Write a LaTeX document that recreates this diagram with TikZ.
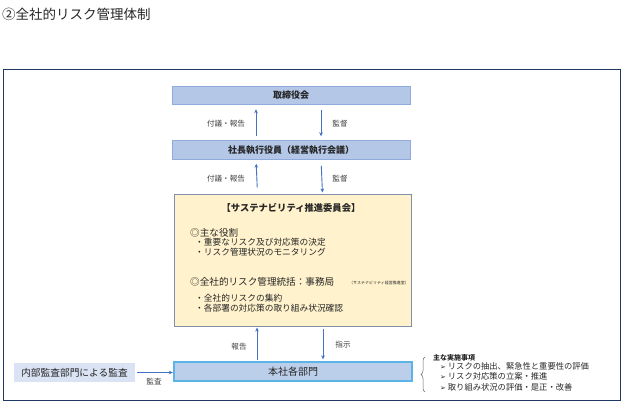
\documentclass[tikz,border=0pt]{standalone}
\usepackage{fontspec}
\setmainfont{Noto Sans CJK JP}
\newfontfamily\dejavu{DejaVu Sans}
\usetikzlibrary{arrows.meta,decorations.pathreplacing}
\definecolor{navy}{HTML}{1F3864}
\definecolor{boxblue}{HTML}{B4C7E7}
\definecolor{boxedge}{HTML}{8FAADC}
\definecolor{yel}{HTML}{FFF2CC}
\definecolor{yeledge}{HTML}{7F8FA9}
\definecolor{hqfill}{HTML}{BCCFEA}
\definecolor{hqedge}{HTML}{5BB4E5}
\definecolor{audfill}{HTML}{DAE3F3}
\definecolor{arrcol}{HTML}{4472C4}
\definecolor{txt}{HTML}{262626}
\definecolor{lbl}{HTML}{404040}
\tikzset{
  x=1pt,y=-1pt,
  topbox/.style={draw=boxedge,fill=boxblue,line width=0.9pt,minimum width=238pt,minimum height=18.5pt,inner sep=0pt,font=\fontsize{9}{10}\selectfont\bfseries,text=txt},
  arr/.style={draw=arrcol,line width=0.9pt,-{Stealth[length=4pt,width=3.6pt]}},
  lab/.style={font=\fontsize{7.6}{8}\selectfont,text=lbl,inner sep=0pt},
  body/.style={font=\fontsize{8.7}{9}\selectfont,text=txt,inner sep=0pt,anchor=west},
  head/.style={font=\fontsize{9.6}{11}\selectfont,text=txt,inner sep=0pt,anchor=west},
  item/.style={font=\fontsize{8.3}{9}\selectfont,text=txt,inner sep=0pt,anchor=west},
}
\begin{document}
\begin{tikzpicture}
\useasboundingbox (0,0) rectangle (624,405);
\node[anchor=west,inner sep=0pt,font=\fontsize{13.5}{14}\selectfont,text=txt] (title) at (2,14) {②全社的リスク管理体制};
\node[draw=navy,line width=1.8pt,minimum width=617pt,minimum height=331pt,inner sep=0pt] (frame) at (312,235) {};
\node[topbox] (board) at (291,95.5) {取締役会};
\node[topbox] (exec) at (291,150) {社長執行役員（経営執行会議）};
\node[draw=yeledge,fill=yel,line width=1pt,minimum width=237pt,minimum height=132pt,inner sep=0pt] (sust) at (292.5,260) {};
\node[draw=hqedge,fill=hqfill,line width=1.3pt,minimum width=238pt,minimum height=19pt,inner sep=0pt,font=\fontsize{10}{11}\selectfont,text=txt] (hq) at (293,371.5) {本社各部門};
\node[fill=audfill,minimum width=121pt,minimum height=19pt,inner sep=0pt,font=\fontsize{9.7}{11}\selectfont,text=txt] (audit) at (74.5,372.5) {内部監査部門による監査};
% arrows
\draw[arr,shorten <=4pt,shorten >=4pt] ([xshift=-35pt]exec.north) -- ([xshift=-35pt]board.south);
\draw[arr,shorten <=5pt,shorten >=4pt] ([xshift=30pt]board.south) -- ([xshift=30pt]exec.north);
\draw[arr,shorten <=6pt,shorten >=4pt] ([xshift=-35pt]sust.north) -- ([xshift=-35pt]exec.south);
\draw[arr,shorten <=6pt,shorten >=1pt] ([xshift=30pt]exec.south) -- ([xshift=30pt]sust.north);
\draw[arr,shorten <=1pt,shorten >=1pt] ([xshift=-36pt]hq.north) -- ([xshift=-35.5pt]sust.south);
\draw[arr,shorten <=2pt,shorten >=2pt] ([xshift=30.5pt]sust.south) -- ([xshift=30pt]hq.north);
\draw[arr,shorten <=2pt,shorten >=0.5pt] (audit.east) -- (audit.east -| hq.west);
% labels
\node[lab] (l1) at (226,124) {付議・報告};
\node[lab] (l2) at (340,124) {監督};
\node[lab] (l3) at (226,179) {付議・報告};
\node[lab] (l4) at (340,179) {監督};
\node[lab] (l5) at (239,347) {報告};
\node[lab] (l6) at (343,345) {指示};
\node[lab] (l7) at (154,382) {監査};
% yellow box text
\node[inner sep=0pt,font=\fontsize{9.3}{10}\selectfont\bfseries,text=txt] (st) at (291,207.5) {【サステナビリティ推進委員会】};
\node[head] (h1) at (190,233) {◎主な役割};
\node[body] (b1) at (195,242) {・重要なリスク及び対応策の決定};
\node[body] (b2) at (195,252.5) {・リスク管理状況のモニタリング};
\node[head] (h2) at (190,282) {◎全社的リスク管理統括：事務局};
\node[inner sep=0pt,anchor=west,font=\fontsize{4}{5}\selectfont,text=txt] (small) at (349,283) {（サステナビリティ経営推進室）};
\node[body] (b3) at (195,298) {・全社的リスクの集約};
\node[body] (b4) at (195,308.5) {・各部署の対応策の取り組み状況確認};
% brace and list
\draw[lbl!80,line width=0.5pt,decorate,decoration={brace,amplitude=4pt}] (425,392) -- (425,357) coordinate (bt);
\node[inner sep=0pt,anchor=west,font=\fontsize{7}{8}\selectfont\bfseries,text=txt] (mh) at (433,358) {主な実施事項};
\node[item] (i1) at (440,366) {{\dejavu\fontsize{7}{8}\selectfont ➢} リスクの抽出、緊急性と重要性の評価};
\node[item] (i2) at (440,376.5) {{\dejavu\fontsize{7}{8}\selectfont ➢} リスク対応策の立案・推進};
\node[item] (i3) at (440,387) {{\dejavu\fontsize{7}{8}\selectfont ➢} 取り組み状況の評価・是正・改善};
\end{tikzpicture}
\end{document}
